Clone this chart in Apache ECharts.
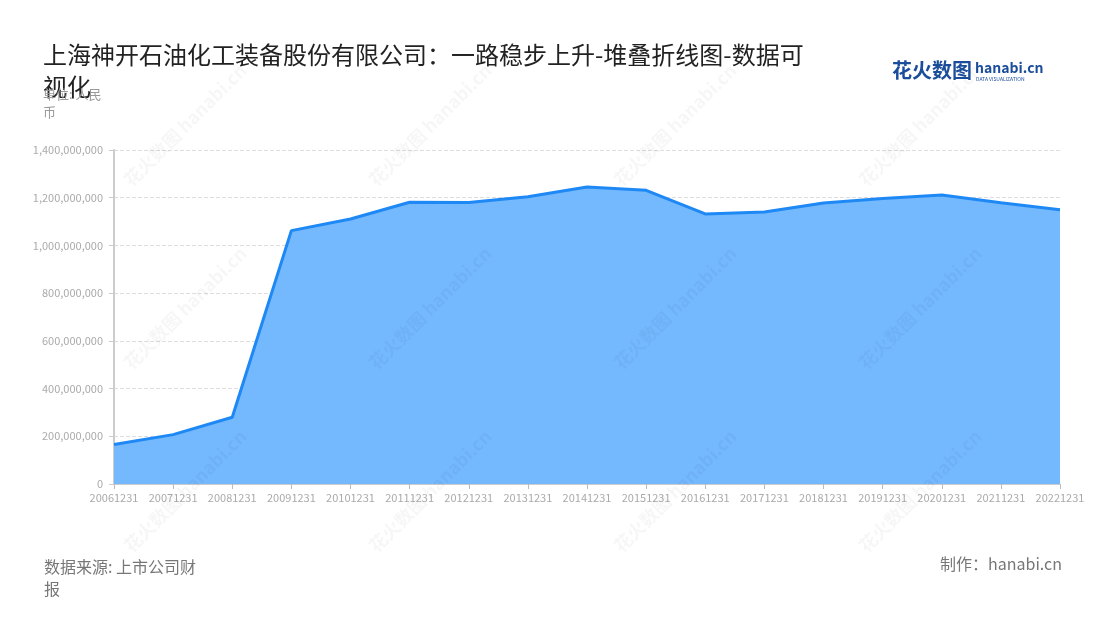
<!DOCTYPE html>
<html>
<head>
<meta charset="utf-8">
<style>
  html, body { margin: 0; padding: 0; background: #fff; }
  #chart { width: 1100px; height: 620px; }
</style>
<script src="https://cdn.jsdelivr.net/npm/echarts@6/dist/echarts.min.js"></script>
</head>
<body>
<div id="chart"></div>
<script>
// report dates
var dates = ['20061231', '20071231', '20081231', '20091231', '20101231', '20111231',
  '20121231', '20131231', '20141231', '20151231', '20161231', '20171231',
  '20181231', '20191231', '20201231', '20211231', '20221231'];

// values in RMB
var values = [166000000, 207000000, 280000000, 1062000000, 1111000000, 1181000000,
  1180000000, 1204000000, 1245000000, 1231000000, 1132000000, 1140000000,
  1178000000, 1197000000, 1211000000, 1179000000, 1150000000];

var seriesName = '上海神开石油化工装备股份有限公司';
var font = '"Noto Sans CJK SC", "Noto Sans", sans-serif';

// faint watermark grid
var marks = [];
var wmX = [185, 430, 675, 920];
var wmY = [125, 308, 491];
for (var i = 0; i < wmX.length; i++) {
  for (var j = 0; j < wmY.length; j++) {
    marks.push({
      type: 'text',
      x: wmX[i], y: wmY[j],
      rotation: Math.PI / 4,
      z: 100,
      silent: true,
      style: {
        text: '花火数图 hanabi.cn',
        font: 'bold 18px ' + font,
        fill: 'rgba(0,0,0,0.035)',
        align: 'center',
        verticalAlign: 'middle'
      }
    });
  }
}

var chart = echarts.init(document.getElementById('chart'));
chart.setOption({
  animation: false,
  textStyle: { fontFamily: font },
  title: [{
    text: '上海神开石油化工装备股份有限公司：一路稳步上升-堆叠折线图-数据可视化',
    left: 38, top: 34,
    textStyle: {
      fontSize: 24, fontWeight: 'normal', color: '#222',
      width: 772, overflow: 'break', lineHeight: 32
    }
  }, {
    text: '单位: 人民币',
    left: 38, top: 80,
    textStyle: {
      fontSize: 13, fontWeight: 'normal', color: '#999',
      width: 70, overflow: 'break', lineHeight: 18
    }
  }],
  graphic: marks.concat([
    {
      type: 'text', left: 892, top: 60,
      style: { text: '花火数图', font: 'bold 20px ' + font, fill: '#1b4d9b' }
    },
    {
      type: 'text', left: 975, top: 61,
      style: { text: 'hanabi.cn', font: 'bold 14px ' + font, fill: '#1b4d9b' }
    },
    {
      type: 'text', left: 976, top: 77,
      style: { text: 'DATA VISUALIZATION', font: '5px ' + font, fill: '#1b4d9b' }
    },
    {
      type: 'text', left: 44, top: 556,
      style: {
        text: '数据来源: 上市公司财\n报', font: '16px ' + font, fill: '#777',
        lineHeight: 22
      }
    },
    {
      type: 'text', right: 38, top: 556,
      style: { text: '制作：hanabi.cn', font: '16px ' + font, fill: '#777' }
    }
  ]),
  grid: { left: 114, right: 40, top: 150, bottom: 136 },
  tooltip: { trigger: 'axis' },
  xAxis: {
    type: 'category',
    boundaryGap: false,
    data: dates,
    axisLine: { lineStyle: { color: '#ccc' } },
    axisTick: { lineStyle: { color: '#bbb' } },
    axisLabel: { color: '#aaa', fontSize: 11, interval: 0, margin: 8 }
  },
  yAxis: {
    type: 'value',
    min: 0, max: 1400000000, interval: 200000000,
    axisLine: { show: true, lineStyle: { color: '#ccc', width: 2 } },
    axisTick: { show: true, lineStyle: { color: '#ccc' } },
    axisLabel: {
      color: '#aaa', fontSize: 11, margin: 11,
      formatter: function (v) { return v.toLocaleString('en-US'); }
    },
    splitLine: { lineStyle: { type: 'dashed', color: '#ddd' } }
  },
  series: [{
    name: seriesName,
    type: 'line',
    stack: 'total',
    data: values,
    symbol: 'none',
    lineStyle: { color: '#1e88f5', width: 3 },
    itemStyle: { color: '#1e88f5' },
    areaStyle: { color: '#74b8fd', opacity: 1 }
  }]
});
</script>
</body>
</html>
